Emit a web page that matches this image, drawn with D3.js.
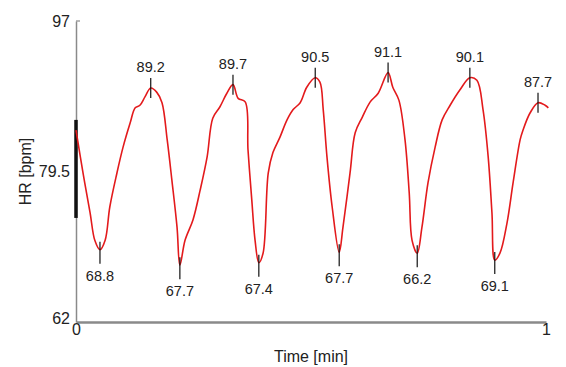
<!doctype html>
<html lang="en">
<head>
  <meta charset="utf-8">
  <script src="https://cdn.jsdelivr.net/npm/d3@7"></script>
</head>

<style>
    body {
        margin: 0;
        background-color: white;
        font-family: "Liberation Sans", Arial, Helvetica, sans-serif;
    }
</style>

<body>
<div id="chart"></div>
</body>

<script>

    // heart rate trace (time in min, HR in bpm)
    let timeVals = [0, .015, .030, .040, .051, .062, .072, .087, .100, .115, .126, .136, .147, .159, .172, .183,
        .194, .204, .215, .221, .232, .249, .264, .279, .291, .306, .321, .334, .345, .360, .366, .374,
        .381, .389, .398, .409, .419, .434, .449, .462, .477, .491, .509, .519, .526, .534, .545, .560,
        .568, .583, .594, .609, .626, .643, .664, .674, .687, .700, .709, .715, .726, .736, .749, .764,
        .779, .796, .817, .838, .853, .866, .877, .885, .891, .902, .917, .930, .945, .951, .966, .983,
        .998, 1.005]
    let hrVals = [84.3, 79.3, 74.7, 71.5, 70.4, 71.5, 75.4, 79.3, 82.3, 85.1, 86.9, 87.2, 88.2, 89.2, 88.7, 87.5,
        83.2, 78.5, 73.0, 68.6, 71.5, 73.9, 77.3, 81.2, 85.7, 87.0, 88.6, 89.6, 88.0, 87.6, 82.0, 76.2,
        71.5, 68.9, 70.0, 79.3, 81.7, 83.5, 85.5, 86.7, 87.5, 89.3, 90.4, 89.9, 86.7, 81.2, 75.4, 70.1,
        73.0, 79.3, 84.0, 85.8, 87.6, 88.6, 91.0, 89.3, 87.8, 83.2, 77.0, 71.5, 70.0, 73.0, 78.2, 82.3,
        85.5, 87.2, 89.0, 90.4, 90.1, 86.7, 81.2, 74.7, 69.2, 70.0, 73.5, 78.2, 83.2, 84.3, 86.3, 87.5,
        87.2, 86.9]

    // marked extrema: time and printed value
    let peakTimes = [.159, .334, .509, .664, .838, .983]
    let peakLabels = ["89.2", "89.7", "90.5", "91.1", "90.1", "87.7"]
    let troughTimes = [.051, .221, .389, .560, .726, .891]
    let troughLabels = ["68.8", "67.7", "67.4", "67.7", "66.2", "69.1"]

    // range bar on the y axis
    let rangeBar = [74.1, 85.5]

    let yTicks = [62, 79.5, 97]
    let xTicks = [0, 1]

    let width = 566, height = 367
    let margin = {left: 76, top: 21, right: 20, bottom: 45}

    let svg = d3.select('#chart')
        .append('svg')
        .attr('width', width)
        .attr('height', height)

    let x = d3.scaleLinear().domain([0, 1]).range([margin.left, 546])
    let y = d3.scaleLinear().domain([62, 97]).range([322, margin.top])

    let data = timeVals.map((t, i) => ({t: t, hr: hrVals[i]}))

    // axes
    let yAxis = svg.append('g')
        .attr('transform', 'translate(' + margin.left + ',0)')
        .call(d3.axisLeft(y).tickValues(yTicks).tickFormat(d => d).tickSize(0).tickPadding(6))
    yAxis.select('.domain').attr('stroke', '#8a8a8a').attr('stroke-width', 1.5)
    yAxis.selectAll('text')
        .attr('font-size', 16)
        .attr('fill', '#222')
        .attr('font-family', '"Liberation Sans", Arial, sans-serif')
    yAxis.selectAll('.tick')
        .filter(d => d == 62)
        .select('text')
        .attr('dy', '0.1em')

    let xAxis = svg.append('g')
        .attr('transform', 'translate(0,322)')
        .call(d3.axisBottom(x).tickValues(xTicks).tickFormat(d => d).tickSize(0).tickPadding(2))
    xAxis.select('.domain').attr('stroke', '#8a8a8a').attr('stroke-width', 2.5)
    xAxis.selectAll('text')
        .attr('font-size', 16)
        .attr('fill', '#222')
        .attr('font-family', '"Liberation Sans", Arial, sans-serif')

    // small tick at the top of the y axis
    svg.append('line')
        .attr('x1', x(0)).attr('x2', x(0) + 4)
        .attr('y1', y(97)).attr('y2', y(97))
        .attr('stroke', '#8a8a8a')
        .attr('stroke-width', 1.2)

    svg.append('text')
        .attr('x', (x(0) + x(1)) / 2)
        .attr('y', 362)
        .attr('text-anchor', 'middle')
        .attr('font-size', 16)
        .attr('fill', '#222')
        .text('Time [min]')

    svg.append('text')
        .attr('transform', 'translate(31,' + y(79.5) + ') rotate(-90)')
        .attr('text-anchor', 'middle')
        .attr('font-size', 16)
        .attr('fill', '#222')
        .text('HR [bpm]')

    // range bar
    svg.append('line')
        .attr('x1', x(0)).attr('x2', x(0))
        .attr('y1', y(rangeBar[0])).attr('y2', y(rangeBar[1]))
        .attr('stroke', '#111')
        .attr('stroke-width', 3.5)

    // trace
    let line = d3.line()
        .x(d => x(d.t))
        .y(d => y(d.hr))
        .curve(d3.curveCatmullRom.alpha(0.5))

    svg.append('path')
        .datum(data)
        .attr('fill', 'none')
        .attr('stroke', '#e31a1c')
        .attr('stroke-width', 1.6)
        .attr('d', line)

    let nearest = (t) => d3.least(data, d => Math.abs(d.t - t))

    let drawMarks = (times, labels, isPeak) => {
        times.forEach((t, i) => {
            let p = nearest(t)
            let px = x(p.t), py = y(p.hr)
            svg.append('line')
                .attr('x1', px).attr('x2', px)
                .attr('y1', isPeak ? py - 10 : py - 8)
                .attr('y2', isPeak ? py + 10 : py + 14)
                .attr('stroke', '#111')
                .attr('stroke-width', 1.2)
            svg.append('text')
                .attr('x', px)
                .attr('y', isPeak ? py - 16 : py + 31)
                .attr('text-anchor', 'middle')
                .attr('font-size', 14.5)
                .attr('fill', '#222')
                .text(labels[i])
        })
    }

    drawMarks(peakTimes, peakLabels, true)
    drawMarks(troughTimes, troughLabels, false)

</script>

</html>
